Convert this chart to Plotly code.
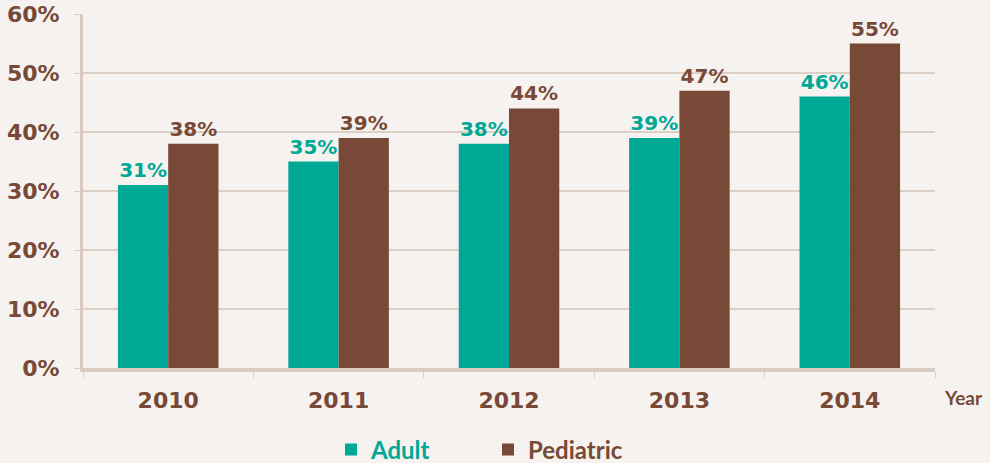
import plotly.graph_objects as go

years = ['2010', '2011', '2012', '2013', '2014']
adult = [31, 35, 38, 39, 46]
pediatric = [38, 39, 44, 47, 55]
y_ticks = [0, 10, 20, 30, 40, 50, 60]
y_labels = [f"{v}%" for v in y_ticks]

TEAL = '#00a896'
BROWN = '#774936'
GRID = '#dccfc6'
BG = '#f6f2ef'
NUM_FONT = 'DejaVu Sans'
TXT_FONT = 'Lato'

fig = go.Figure()
fig.add_trace(go.Bar(
    x=years, y=adult, name=f'<span style="color:{TEAL}">Adult</span>',
    marker=dict(color=TEAL, line=dict(width=0)),
    text=[f"{v}%" for v in adult], textposition='outside', cliponaxis=False,
    textfont=dict(color=TEAL, size=20, family=NUM_FONT, weight=700),
))
fig.add_trace(go.Bar(
    x=years, y=pediatric, name=f'<span style="color:{BROWN}">Pediatric</span>',
    marker=dict(color=BROWN, line=dict(width=0)),
    text=[f"{v}%" for v in pediatric], textposition='outside', cliponaxis=False,
    textfont=dict(color=BROWN, size=20, family=NUM_FONT, weight=700),
))

fig.update_layout(
    width=990, height=463,
    margin=dict(l=83, r=55, t=14, b=95, autoexpand=False),
    paper_bgcolor=BG, plot_bgcolor=BG,
    barmode='group', bargap=0.41, bargroupgap=0,
    font=dict(family=TXT_FONT, color=BROWN),
    legend=dict(orientation='h', xref='container', yref='container',
                x=331 / 990, xanchor='left', y=13 / 463, yanchor='middle',
                font=dict(size=24, family=TXT_FONT, weight=700), itemwidth=30,
                traceorder='normal', entrywidth=112, bgcolor='rgba(0,0,0,0)'),
    showlegend=True,
    annotations=[dict(text='<b>Year</b>', xref='paper', yref='paper', x=1.0, y=-0.045,
                      xanchor='left', yanchor='top', xshift=7, showarrow=False,
                      font=dict(size=19, color=BROWN, family=TXT_FONT))],
)
fig.update_xaxes(
    showline=True, linecolor='#d9cbc2', linewidth=4,
    ticks='outside', tickson='boundaries', ticklen=6, tickcolor=GRID, tickwidth=1,
    tickfont=dict(size=22, color=BROWN, family=NUM_FONT, weight=700),
    ticklabelstandoff=10, showgrid=False, range=[-0.5, 4.5],
)
fig.update_yaxes(
    range=[0, 60], tickvals=y_ticks, ticktext=y_labels,
    showline=True, linecolor='#d9cbc2', linewidth=3,
    ticks='outside', ticklen=6, tickcolor=GRID, ticklabelstandoff=10,
    showgrid=True, gridcolor=GRID, gridwidth=1.5, zeroline=False,
    tickfont=dict(size=22, color=BROWN, family=NUM_FONT, weight=700),
)

fig.write_html("out.html", config={'displayModeBar': False},
               post_script="document.body.style.margin='0';")
